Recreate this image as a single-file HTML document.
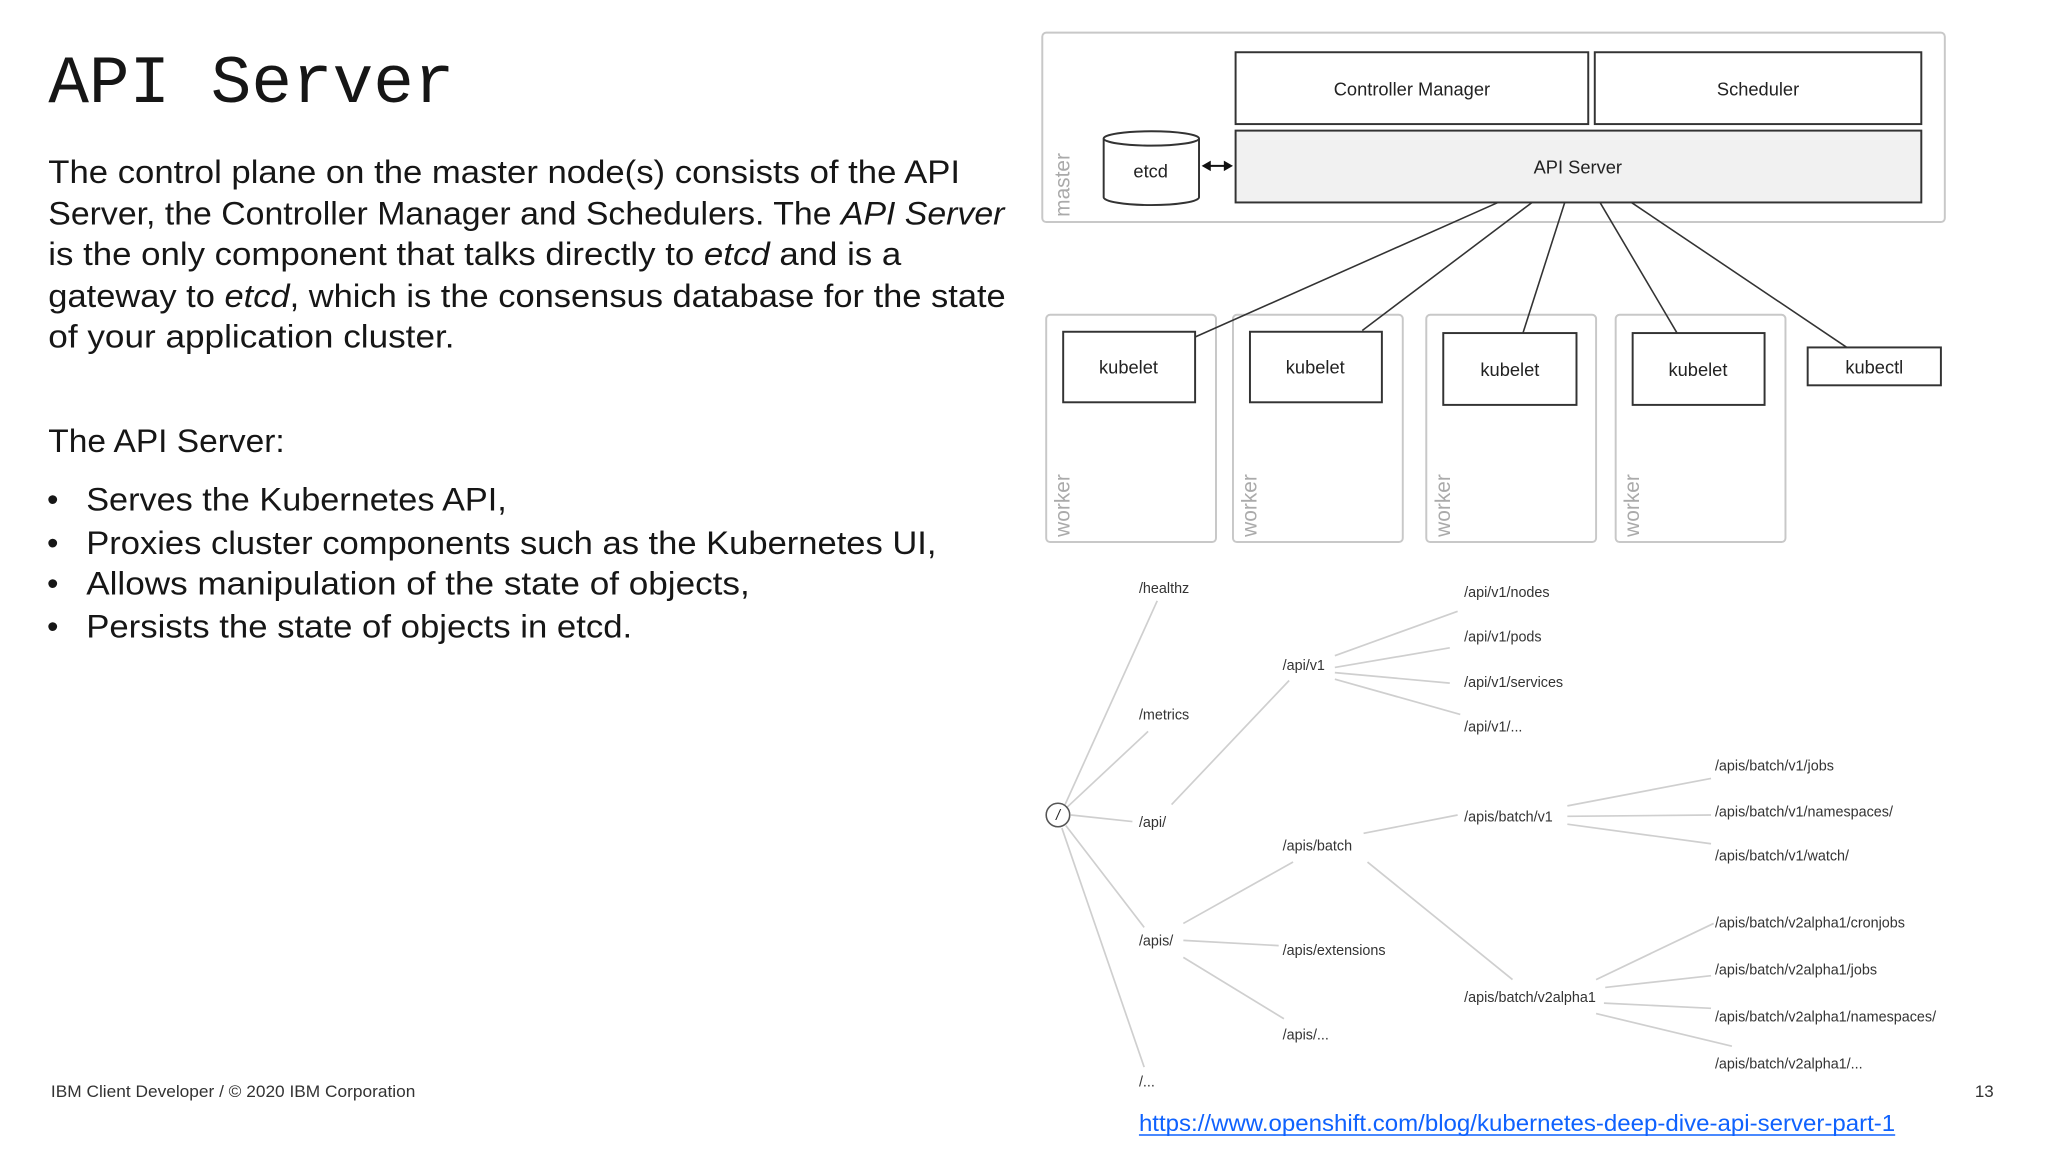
<!DOCTYPE html>
<html><head><meta charset="utf-8"><style>
html,body{margin:0;padding:0;background:#fff;}
svg{display:block;}
</style></head><body>
<svg width="2048" height="1152" viewBox="0 0 1568 882" xmlns="http://www.w3.org/2000/svg">
<rect width="1568" height="882" fill="#fff"/>
<text x="37" y="78" font-family="Liberation Mono, monospace" font-size="52" fill="#161616" textLength="311" lengthAdjust="spacingAndGlyphs">API Server</text>
<g font-family="Liberation Sans, sans-serif" font-size="25" fill="#161616">
<text x="37" y="140" textLength="698" lengthAdjust="spacingAndGlyphs">The control plane on the master node(s) consists of the API</text>
<text x="37" y="172" textLength="732" lengthAdjust="spacingAndGlyphs">Server, the Controller Manager and Schedulers. The <tspan font-style="italic">API Server</tspan></text>
<text x="37" y="203" textLength="653" lengthAdjust="spacingAndGlyphs">is the only component that talks directly to <tspan font-style="italic">etcd</tspan> and is a</text>
<text x="37" y="235" textLength="733" lengthAdjust="spacingAndGlyphs">gateway to <tspan font-style="italic">etcd</tspan>, which is the consensus database for the state</text>
<text x="37" y="266" textLength="311" lengthAdjust="spacingAndGlyphs">of your application cluster.</text>
<text x="37" y="346" textLength="181" lengthAdjust="spacingAndGlyphs">The API Server:</text>
<text x="36" y="391">•</text><text x="66" y="391" textLength="322" lengthAdjust="spacingAndGlyphs">Serves the Kubernetes API,</text>
<text x="36" y="424">•</text><text x="66" y="424" textLength="651" lengthAdjust="spacingAndGlyphs">Proxies cluster components such as the Kubernetes UI,</text>
<text x="36" y="455">•</text><text x="66" y="455" textLength="508" lengthAdjust="spacingAndGlyphs">Allows manipulation of the state of objects,</text>
<text x="36" y="488">•</text><text x="66" y="488" textLength="418" lengthAdjust="spacingAndGlyphs">Persists the state of objects in etcd.</text>
</g>
<text x="39" y="840" font-family="Liberation Sans, sans-serif" font-size="13" fill="#333" textLength="279" lengthAdjust="spacingAndGlyphs">IBM Client Developer / © 2020 IBM Corporation</text>
<text x="1512" y="840" font-family="Liberation Sans, sans-serif" font-size="13" fill="#333">13</text>
<text x="872" y="866" font-family="Liberation Sans, sans-serif" font-size="18" fill="#0f62fe" textLength="579" lengthAdjust="spacingAndGlyphs">https://www.openshift.com/blog/kubernetes-deep-dive-api-server-part-1</text>
<line x1="872" y1="869" x2="1451" y2="869" stroke="#0f62fe" stroke-width="1.2"/>

<g font-family="Liberation Sans, sans-serif" fill="none">
<rect x="798" y="25" width="691" height="145" rx="3" stroke="#c8c8c8" stroke-width="1.5"/>
<text x="0" y="0" transform="translate(819,166) rotate(-90)" font-size="16" fill="#aaa">master</text>
<rect x="946" y="40" width="270" height="55" stroke="#333" stroke-width="1.5"/>
<rect x="1221" y="40" width="250" height="55" stroke="#333" stroke-width="1.5"/>
<rect x="946" y="100" width="525" height="55" fill="#f1f1f1" stroke="#333" stroke-width="1.5"/>
<text x="1081" y="73" font-size="14" fill="#222" text-anchor="middle">Controller Manager</text>
<text x="1346" y="73" font-size="14" fill="#222" text-anchor="middle">Scheduler</text>
<text x="1208" y="133" font-size="14" fill="#222" text-anchor="middle">API Server</text>
<path d="M845,106 L845,151 A36.5,6 0 0 0 918,151 L918,106" fill="#fff" stroke="#333" stroke-width="1.5"/>
<ellipse cx="881.5" cy="106" rx="36.5" ry="5.5" fill="#fff" stroke="#333" stroke-width="1.5"/>
<text x="881" y="136" font-size="14" fill="#222" text-anchor="middle">etcd</text>
<line x1="925" y1="127" x2="939" y2="127" stroke="#111" stroke-width="1.5"/>
<path d="M920,127 L927,123 L927,131Z M944,127 L937,123 L937,131Z" fill="#111"/>
<g stroke="#c8c8c8" stroke-width="1.5">
<rect x="801" y="241" width="130" height="174" rx="3"/>
<rect x="944" y="241" width="130" height="174" rx="3"/>
<rect x="1092" y="241" width="130" height="174" rx="3"/>
<rect x="1237" y="241" width="130" height="174" rx="3"/>
</g>
<g font-size="16" fill="#aaa">
<text transform="translate(819,411) rotate(-90)">worker</text>
<text transform="translate(962,411) rotate(-90)">worker</text>
<text transform="translate(1110,411) rotate(-90)">worker</text>
<text transform="translate(1255,411) rotate(-90)">worker</text>
</g>
<g stroke="#333" stroke-width="1.5" fill="#fff">
<rect x="814" y="254" width="101" height="54"/>
<rect x="957" y="254" width="101" height="54"/>
<rect x="1105" y="255" width="102" height="55"/>
<rect x="1250" y="255" width="101" height="55"/>
<rect x="1384" y="266" width="102" height="29"/>
</g>
<g font-size="14" fill="#222" text-anchor="middle">
<text x="864" y="286">kubelet</text>
<text x="1007" y="286">kubelet</text>
<text x="1156" y="288">kubelet</text>
<text x="1300" y="288">kubelet</text>
<text x="1435" y="286">kubectl</text>
</g>
<g stroke="#333" stroke-width="1.2">
<line x1="1147" y1="155" x2="915" y2="258"/>
<line x1="1173" y1="155" x2="1043" y2="253"/>
<line x1="1198" y1="155" x2="1166" y2="255"/>
<line x1="1225" y1="155" x2="1284" y2="255"/>
<line x1="1249" y1="155" x2="1414" y2="266"/>
</g>
</g>

<g stroke="#cfcfcf" stroke-width="1.3">
<line x1="815" y1="617" x2="886" y2="460"/>
<line x1="817" y1="618" x2="879" y2="560"/>
<line x1="820" y1="624" x2="867" y2="629"/>
<line x1="816" y1="632" x2="876" y2="710"/>
<line x1="813" y1="634" x2="876" y2="817"/>
<line x1="897" y1="616" x2="987" y2="521"/>
<line x1="1022" y1="502" x2="1116" y2="468"/>
<line x1="1022" y1="511" x2="1110" y2="496"/>
<line x1="1022" y1="515" x2="1110" y2="523"/>
<line x1="1022" y1="520" x2="1118" y2="547"/>
<line x1="906" y1="707" x2="990" y2="660"/>
<line x1="906" y1="720" x2="979" y2="724"/>
<line x1="906" y1="733" x2="983" y2="780"/>
<line x1="1044" y1="638" x2="1116" y2="624"/>
<line x1="1047" y1="660" x2="1158" y2="750"/>
<line x1="1200" y1="617" x2="1310" y2="596"/>
<line x1="1200" y1="625" x2="1310" y2="624"/>
<line x1="1200" y1="631" x2="1310" y2="646"/>
<line x1="1222" y1="750" x2="1312" y2="707"/>
<line x1="1229" y1="756" x2="1310" y2="747"/>
<line x1="1228" y1="768" x2="1310" y2="772"/>
<line x1="1222" y1="776" x2="1326" y2="801"/>
</g>
<circle cx="810" cy="624" r="9" fill="#fff" stroke="#555" stroke-width="1.2"/>
<text x="810" y="628" font-family="Liberation Sans, sans-serif" font-size="11" fill="#222" text-anchor="middle" font-style="italic">/</text>
<g font-family="Liberation Sans, sans-serif" font-size="11" fill="#333">
<text x="872" y="454">/healthz</text>
<text x="872" y="551">/metrics</text>
<text x="872" y="633">/api/</text>
<text x="872" y="724">/apis/</text>
<text x="872" y="832">/...</text>
<text x="982" y="513">/api/v1</text>
<text x="982" y="651">/apis/batch</text>
<text x="982" y="731">/apis/extensions</text>
<text x="982" y="796">/apis/...</text>
<text x="1121" y="457">/api/v1/nodes</text>
<text x="1121" y="491">/api/v1/pods</text>
<text x="1121" y="526">/api/v1/services</text>
<text x="1121" y="560">/api/v1/...</text>
<text x="1121" y="629">/apis/batch/v1</text>
<text x="1121" y="767">/apis/batch/v2alpha1</text>
<text x="1313" y="590">/apis/batch/v1/jobs</text>
<text x="1313" y="625">/apis/batch/v1/namespaces/</text>
<text x="1313" y="659">/apis/batch/v1/watch/</text>
<text x="1313" y="710">/apis/batch/v2alpha1/cronjobs</text>
<text x="1313" y="746">/apis/batch/v2alpha1/jobs</text>
<text x="1313" y="782">/apis/batch/v2alpha1/namespaces/</text>
<text x="1313" y="818">/apis/batch/v2alpha1/...</text>
</g>
</svg>
</body></html>
